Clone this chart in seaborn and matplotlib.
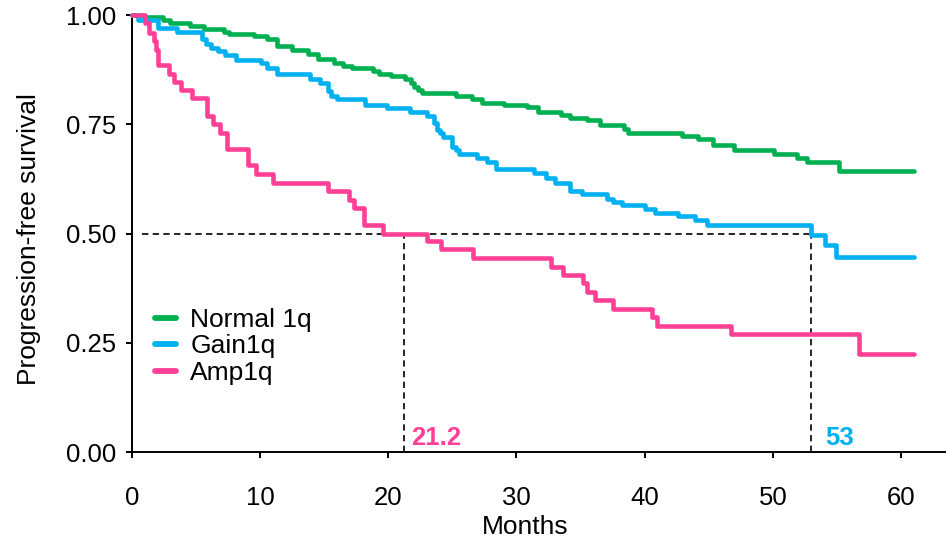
import numpy as np
import pandas as pd
import matplotlib
matplotlib.use("Agg")
import matplotlib.pyplot as plt
from matplotlib.lines import Line2D
import seaborn as sns

# Kaplan-Meier step points: survival value reached at each event time (months)
normal_t = [0, 0.9, 2.4, 3.0, 4.5, 5.6, 7.2, 7.6, 9.5, 10.5, 11.3, 12.45, 13.7, 14.5,
            15.8, 16.5, 17.2, 18.8, 19.3, 20.2, 21.3, 21.8, 22.0, 22.3, 22.6, 25.3,
            26.5, 27.3, 29.0, 30.8, 31.7, 33.5, 34.2, 35.5, 36.5, 38.4, 38.7, 42.9,
            44.2, 45.3, 47.0, 50.1, 51.9, 52.7, 55.2, 61.0]
normal_s = [1.0, 0.995, 0.989, 0.982, 0.975, 0.967, 0.961, 0.956, 0.952, 0.945, 0.930,
            0.921, 0.911, 0.899, 0.890, 0.884, 0.879, 0.873, 0.865, 0.861, 0.854, 0.845,
            0.836, 0.828, 0.821, 0.815, 0.808, 0.799, 0.795, 0.790, 0.777, 0.771, 0.765,
            0.759, 0.748, 0.740, 0.729, 0.723, 0.717, 0.702, 0.690, 0.682, 0.672, 0.663,
            0.644, 0.644]

gain_t = [0, 0.5, 2.0, 3.55, 5.45, 5.8, 6.2, 6.7, 7.25, 8.15, 10.1, 10.5, 11.3, 13.9,
          14.7, 15.3, 15.5, 16.0, 18.2, 19.9, 21.7, 23.0, 23.6, 23.8, 24.0, 24.3, 25.0,
          25.25, 25.5, 26.9, 27.7, 28.4, 31.4, 32.3, 33.0, 34.2, 35.1, 37.1, 37.5, 38.2,
          40.0, 40.8, 42.6, 43.9, 44.9, 53.0, 54.1, 54.9, 61.0]
gain_s = [1.0, 0.989, 0.970, 0.961, 0.944, 0.934, 0.924, 0.917, 0.908, 0.898, 0.890,
          0.878, 0.865, 0.854, 0.844, 0.826, 0.814, 0.808, 0.795, 0.787, 0.778, 0.768,
          0.752, 0.737, 0.729, 0.720, 0.699, 0.691, 0.682, 0.672, 0.664, 0.648, 0.638,
          0.626, 0.616, 0.598, 0.590, 0.580, 0.572, 0.565, 0.556, 0.547, 0.540, 0.531,
          0.519, 0.497, 0.474, 0.447, 0.447]

amp_t = [0, 1.0, 1.35, 1.7, 1.9, 2.0, 2.9, 3.3, 3.8, 4.7, 5.85, 6.3, 6.85, 7.4, 9.05,
         9.65, 11.0, 15.3, 16.9, 17.3, 18.1, 19.6, 23.0, 24.1, 26.6, 32.7, 33.6, 35.2,
         35.5, 36.1, 37.5, 40.6, 41.0, 46.7, 56.7, 61.0]
amp_s = [1.0, 0.982, 0.959, 0.940, 0.920, 0.885, 0.866, 0.847, 0.829, 0.810, 0.770,
         0.751, 0.730, 0.693, 0.657, 0.636, 0.616, 0.597, 0.577, 0.558, 0.520, 0.500,
         0.482, 0.464, 0.443, 0.423, 0.405, 0.386, 0.367, 0.347, 0.327, 0.310, 0.289,
         0.270, 0.224, 0.224]

groups = ["Normal 1q", "Gain1q", "Amp1q"]
colors = ["#00B050", "#00B0F0", "#FF4096"]
medians = {"Amp1q": 21.2, "Gain1q": 53}
x_ticks = [0, 10, 20, 30, 40, 50, 60]
y_ticks = [0.0, 0.25, 0.5, 0.75, 1.0]

df = pd.concat([
    pd.DataFrame({"Months": normal_t, "PFS": normal_s, "Group": groups[0]}),
    pd.DataFrame({"Months": gain_t, "PFS": gain_s, "Group": groups[1]}),
    pd.DataFrame({"Months": amp_t, "PFS": amp_s, "Group": groups[2]}),
], ignore_index=True)

sns.set_style("ticks")
plt.rcParams["font.family"] = ["Liberation Sans", "DejaVu Sans"]
plt.rcParams["text.color"] = "black"
plt.rcParams["axes.labelcolor"] = "black"

fig = plt.figure(figsize=(9.46, 5.42), dpi=100)
ax = fig.add_axes([0.1395, 0.166, 0.859, 0.8063])

palette = dict(zip(groups, colors))

# median reference lines
dash = dict(color="black", lw=1.2, dashes=(3.8, 2.6), zorder=1)
ax.plot([0.8, medians["Gain1q"]], [0.5, 0.5], **dash)
for g in ["Amp1q", "Gain1q"]:
    ax.plot([medians[g], medians[g]], [0, 0.5], **dash)

sns.lineplot(data=df, x="Months", y="PFS", hue="Group", palette=palette,
             hue_order=groups, drawstyle="steps-post", estimator=None,
             linewidth=3.3, legend=False, ax=ax, zorder=3,
             solid_capstyle="round", clip_on=False)

ax.text(medians["Amp1q"] + 0.55, 0.016, "21.2", color=palette["Amp1q"],
        fontsize=18.5, fontweight="bold", va="baseline", ha="left")
ax.text(medians["Gain1q"] + 1.1, 0.016, "53", color=palette["Gain1q"],
        fontsize=18.5, fontweight="bold", va="baseline", ha="left")

ax.set_xlim(0, 63.4)
ax.set_ylim(0, 1.0)
ax.set_xticks(x_ticks)
ax.set_yticks(y_ticks)
ax.set_yticklabels([f"{v:.2f}" for v in y_ticks])
ax.tick_params(axis="both", labelsize=18.5, length=4.5, width=1.4, color="black",
               labelcolor="black")
ax.tick_params(axis="x", pad=20)
ax.tick_params(axis="y", pad=7)
for side in ["top", "right"]:
    ax.spines[side].set_visible(False)
for side in ["left", "bottom"]:
    ax.spines[side].set_linewidth(1.4)
    ax.spines[side].set_color("black")

ax.set_xlabel("Months", fontsize=19, labelpad=0)
ax.set_ylabel("Progression-free survival", fontsize=19)
ax.xaxis.set_label_coords(0.484, -0.145)
ax.yaxis.set_label_coords(-0.112, 0.487)

handles = [Line2D([0], [0], color=c, lw=4.2, solid_capstyle="round") for c in colors]
ax.legend(handles, groups, loc="upper left", bbox_to_anchor=(0.028, 0.33),
          frameon=False, fontsize=19, handlelength=0.8, handletextpad=0.55,
          labelspacing=0.1, borderpad=0, borderaxespad=0)

fig.savefig("out.png", dpi=100)
